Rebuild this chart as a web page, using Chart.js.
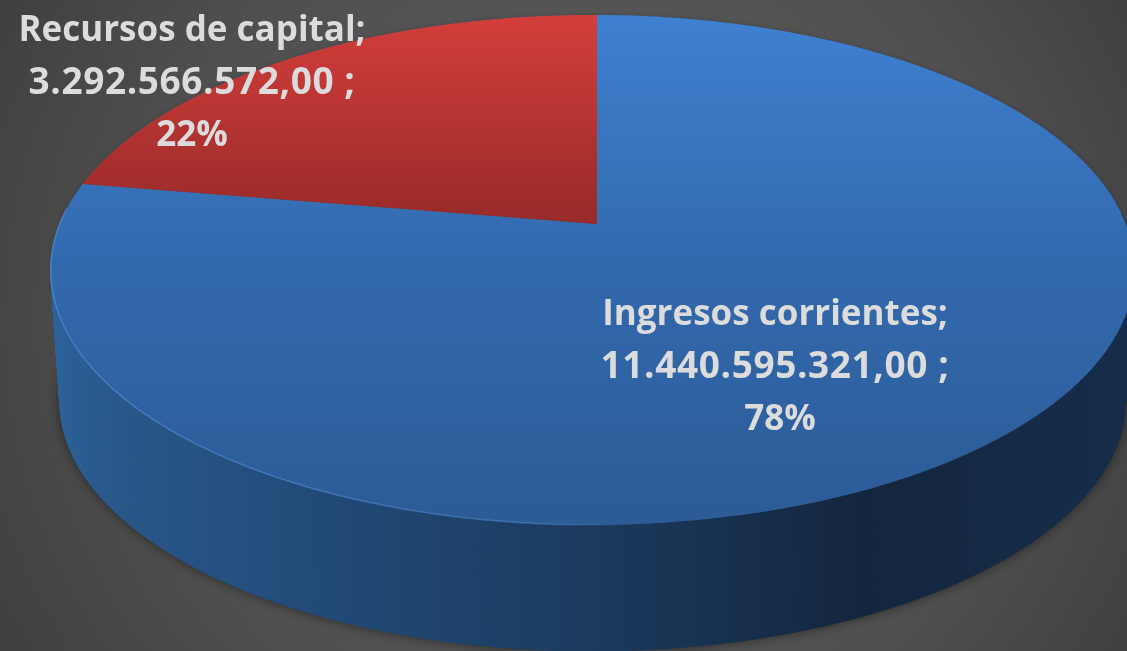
<!DOCTYPE html>
<html lang="es">
<head>
<meta charset="utf-8">
<title>Ingresos</title>
<script src="https://cdn.jsdelivr.net/npm/chart.js@4"></script>
<style>
  html,body{margin:0;padding:0;background:#474747;overflow:hidden}
  #wrap{width:1127px;height:651px;position:relative}
</style>
</head>
<body>
<div id="wrap"><canvas id="chart" width="1127" height="651"></canvas></div>
<script>
// datos
const categories = ['Ingresos corrientes', 'Recursos de capital'];
const values = [11440595321, 3292566572];
const valueLabels = ['11.440.595.321,00', '3.292.566.572,00'];
const percentLabels = ['78%', '22%'];

// proyeccion en perspectiva del disco (circulo unidad -> pantalla)
const view = {x0:597, y0:224, a:533, b:246.7, k:0.18, m:0.008};
const wallView = {x0:597, y0:356, a:524, b:241.8, k:0.18, m:0.008};

function project(p, ang){
  const u = Math.cos(ang), v = Math.sin(ang);
  const w = 1 - p.k*v + p.m*u;
  return [p.x0 + p.a*u/w, p.y0 + p.b*v/w];
}

function tracePath(ctx, p, start, end){
  const n = Math.max(8, Math.ceil((end-start)/0.01));
  for(let i=0;i<=n;i++){
    const q = project(p, start + (end-start)*i/n);
    ctx.lineTo(q[0], q[1]);
  }
}

function grad(ctx, x0, y0, x1, y1, stops){
  const g = ctx.createLinearGradient(x0,y0,x1,y1);
  stops.forEach(s=>g.addColorStop(s[0], s[1]));
  return g;
}

const pie3d = {
  id:'pie3d',
  beforeDraw(chart){
    const ctx = chart.ctx;
    // fondo
    const bg = ctx.createRadialGradient(620,300,60,563,325,700);
    bg.addColorStop(0,'#5e5e5e');
    bg.addColorStop(0.6,'#4f4f4f');
    bg.addColorStop(1,'#3c3c3c');
    ctx.fillStyle = bg;
    ctx.fillRect(0,0,chart.width,chart.height);
  },
  beforeDatasetsDraw(chart){
    const ctx = chart.ctx;
    const arcs = chart.getDatasetMeta(0).data;

    // sombra bajo el disco
    ctx.save();
    ctx.shadowColor = 'rgba(0,0,0,0.55)';
    ctx.shadowBlur = 12;
    ctx.fillStyle = '#14263f';
    ctx.beginPath();
    tracePath(ctx, wallView, 0, Math.PI*2);
    ctx.closePath();
    ctx.fill();
    ctx.shadowColor = 'rgba(0,0,0,0.18)';
    ctx.shadowBlur = 5;
    ctx.fillStyle = '#2c5b96';
    ctx.beginPath();
    tracePath(ctx, view, 0, Math.PI*2);
    ctx.closePath();
    ctx.fill();
    ctx.restore();

    // pared lateral, solo la parte frontal
    const wall = grad(ctx, 55, 0, 1130, 0, [
      [0,'#2c6199'],[0.06,'#295789'],[0.25,'#224a78'],[0.5,'#1b3a5e'],
      [0.75,'#14263f'],[1,'#152d4a']
    ]);
    ctx.fillStyle = wall; ctx.strokeStyle = wall; ctx.lineWidth = 1;
    const steps = 720;
    for(let i=0;i<steps;i++){
      const a0 = i/steps*Math.PI*2, a1 = (i+1)/steps*Math.PI*2;
      if(Math.sin(a0) < -0.05 || Math.sin(a1) < -0.05) continue;
      const p0 = project(view,a0), p1 = project(view,a1);
      const q0 = project(wallView,a0), q1 = project(wallView,a1);
      ctx.beginPath();
      ctx.moveTo(p0[0],p0[1]); ctx.lineTo(p1[0],p1[1]);
      ctx.lineTo(q1[0],q1[1]); ctx.lineTo(q0[0],q0[1]);
      ctx.closePath(); ctx.fill(); ctx.stroke();
    }

    // cara superior, una cuña por cada dato
    const fills = [
      grad(ctx,0,15,0,525,[[0,'#3f80d0'],[0.5,'#3269ad'],[1,'#2c5b96']]),
      grad(ctx,0,15,0,224,[[0,'#d33e3b'],[1,'#972a29']])
    ];
    arcs.forEach((el,i)=>{
      ctx.beginPath();
      ctx.moveTo(view.x0, view.y0);
      tracePath(ctx, view, el.startAngle, el.endAngle);
      ctx.closePath();
      ctx.fillStyle = fills[i];
      ctx.fill();
    });

    // brillo en el borde frontal izquierdo
    ctx.lineWidth = 1.5;
    ctx.strokeStyle = grad(ctx,50,0,640,0,[
      [0,'rgba(84,146,220,0.6)'],[0.85,'rgba(84,146,220,0.45)'],[1,'rgba(84,146,220,0)']
    ]);
    ctx.beginPath();
    tracePath(ctx, view, Math.PI*0.48, Math.PI*1.02);
    ctx.stroke();
    return false;
  },
  afterDraw(chart){
    const ctx = chart.ctx;
    // posicion x, y de la primera linea de cada etiqueta, y ajuste x del porcentaje
    const spots = [[775,325,5],[192,41,0]];
    const nameFont = 'bold 35px "Open Sans", sans-serif';
    const numFont = 'bold 37px "Open Sans", sans-serif';
    ctx.save();
    ctx.fillStyle = '#dcdcdc';
    ctx.textAlign = 'center';
    ctx.textBaseline = 'alphabetic';
    categories.forEach((name,i)=>{
      const x = spots[i][0], y = spots[i][1];
      ctx.font = nameFont; ctx.letterSpacing = '0px';
      ctx.fillText(name + ';', x, y);
      ctx.font = numFont; ctx.letterSpacing = '0.6px';
      ctx.fillText(valueLabels[i] + ' ;', x, y + 52.5);
      ctx.font = nameFont; ctx.letterSpacing = '0px';
      ctx.fillText(percentLabels[i], x + spots[i][2], y + 105);
    });
    ctx.restore();
  }
};

new Chart(document.getElementById('chart').getContext('2d'), {
  type:'pie',
  data:{labels:categories, datasets:[{data:values, backgroundColor:['#3269ad','#b53433'], borderWidth:0}]},
  options:{
    responsive:false,
    animation:false,
    plugins:{legend:{display:false},tooltip:{enabled:false}}
  },
  plugins:[pie3d]
});
</script>
</body>
</html>
